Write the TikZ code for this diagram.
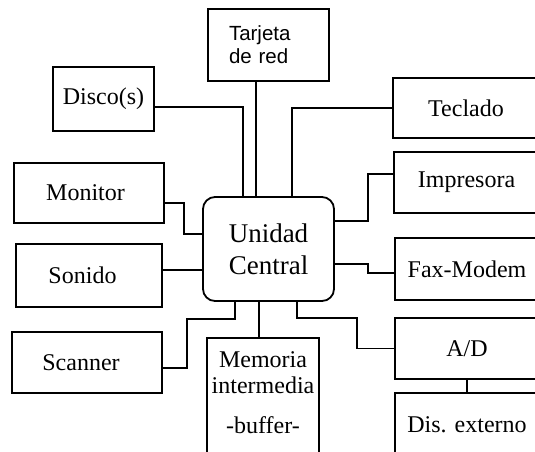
\documentclass[tikz,border=0pt]{standalone}
\usepackage{fontspec}
\setmainfont{Liberation Serif}
\newfontfamily\arialf{Liberation Sans}
\usetikzlibrary{calc}
\begin{document}
\begin{tikzpicture}[x=1pt,y=-1pt,
  lw/.style={line width=1.8pt},
  box/.style={draw, lw, rectangle, inner sep=0pt, font=\fontsize{24}{26.5}\selectfont},
  conn/.style={draw, lw}
]
\useasboundingbox (0,0) rectangle (535,451);
\clip (0,0) rectangle (535,451);
\fill[white] (0,0) rectangle (535,451);

% central unit
\node[box, rounded corners=12pt, minimum width=131pt, minimum height=104pt, align=center,
      font=\fontsize{27}{32}\selectfont] (cu) at (268.5,249) {Unidad\\Central};

% top
\node[box, minimum width=121pt, minimum height=72pt, text width=79pt, inner xsep=21pt,
      align=left, font=\arialf\fontsize{20.5}{23}\selectfont] (tarjeta) at (268.5,45) {Tarjeta\\de red};

% left
\node[box, minimum width=101pt, minimum height=64pt] (disco) at (103.5,99) {Disco(s)};
\node[box, minimum width=150pt, minimum height=60pt] (monitor) at (89,193) {\hspace*{-7pt}Monitor};
\node[box, minimum width=146pt, minimum height=63pt] (sonido) at (89,275.5) {\hspace*{-13pt}Sonido};
\node[box, minimum width=150pt, minimum height=61pt] (scanner) at (87,362.5) {\hspace*{-12pt}Scanner};

% bottom
\node[box, anchor=north, minimum width=112pt, minimum height=140pt, align=center,
      text depth=31.4pt] (memoria) at (263,337) {Memoria\\intermedia\\[13pt]-buffer-};

% right
\node[box, minimum width=146pt, minimum height=60pt] (teclado) at (466,108) {Teclado};
\node[box, minimum width=145pt, minimum height=61pt] (impresora) at (466.5,182.5) {Impresora};
\node[box, minimum width=144pt, minimum height=62pt] (fax) at (467,269) {Fax-Modem};
\node[box, minimum width=144pt, minimum height=61pt] (ad) at (467,348.5) {A/D};
\node[box, anchor=north, minimum width=144pt, minimum height=80pt, text depth=16.5pt] (dis) at (467,392) {Dis. externo};

% connectors
\coordinate (tj) at ($(tarjeta.south west)+(49,0)$);
\draw[conn] (tj) -- (tj |- cu.north);

\coordinate (dk) at ($(disco.east)+(0,8)$);
\draw[conn] (dk) -| ($(cu.north west)+(41,0)$);

\coordinate (mo) at ($(monitor.east)+(0,10)$);
\coordinate (cuM) at ($(cu.west)+(0,-15)$);
\draw[conn] (mo) -- ++(19,0) |- (cuM);

\coordinate (cuS) at ($(cu.west)+(0,21)$);
\draw[conn] (sonido.east |- cuS) -- (cuS);

\coordinate (sc) at ($(scanner.east)+(0,5.5)$);
\coordinate (cuSc) at ($(cu.south west)+(33,0)$);
\draw[conn] (sc) -| ($(sc)+(24,-49)$) -| (cuSc);

\coordinate (cuMe) at ($(cu.south west)+(57,0)$);
\draw[conn] (cuMe) -- (cuMe |- memoria.north);

\draw[conn] (teclado.west) -| ($(cu.north west)+(90,0)$);

\coordinate (ip) at ($(impresora.west)+(0,-8.5)$);
\coordinate (cuI) at ($(cu.east)+(0,-28)$);
\draw[conn] (ip) -- ++(-25,0) |- (cuI);

\coordinate (cuF) at ($(cu.east)+(0,15)$);
\coordinate (fx) at ($(fax.west)+(0,4)$);
\draw[conn] (cuF) -- ++(33,0) |- (fx);

\coordinate (cuA) at ($(cu.south west)+(95,0)$);
\draw[conn] (cuA) |- ($(cuA)+(60,16)$) |- (ad.west);

\draw[conn] (ad.south) -- (dis.north);
\end{tikzpicture}
\end{document}
